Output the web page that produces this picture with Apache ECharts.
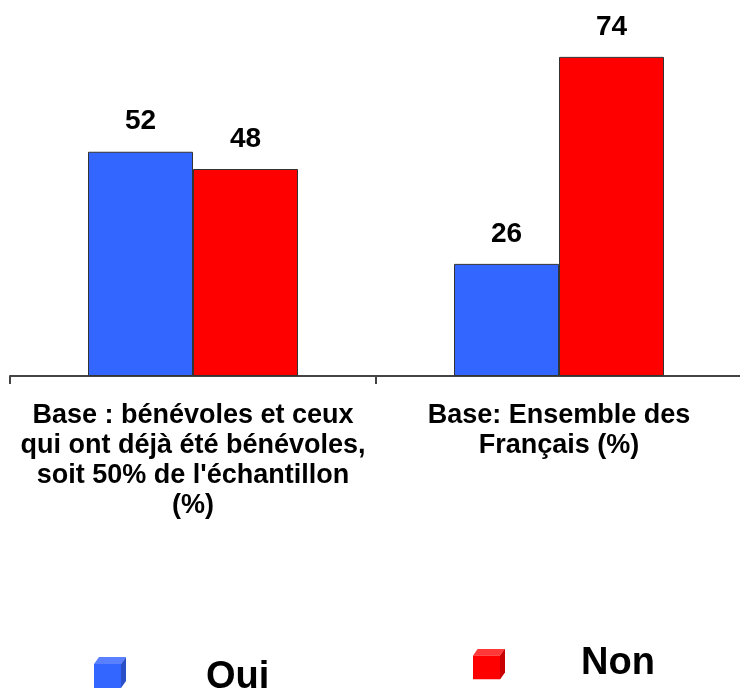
<!DOCTYPE html>
<html>
<head>
<meta charset="utf-8">
<script src="https://cdn.jsdelivr.net/npm/echarts@6/dist/echarts.min.js"></script>
<style>
  html, body { margin: 0; padding: 0; background: #fff; overflow: hidden; }
  /* a bit wider than the window so the last axis tick falls off the edge */
  #chart { width: 750px; height: 690px; }
</style>
</head>
<body>
<div id="chart"></div>
<script>
const categories = [
  "Base : bénévoles et ceux\nqui ont déjà été bénévoles,\nsoit 50% de l'échantillon\n(%)",
  "Base: Ensemble des\nFrançais (%)"
];
const oui = [52, 26];
const non = [48, 74];

// little 3d cube used as legend marker, extra blank rows at the bottom nudge it up against the text
const cube = (front, top, side, extra) => 'image://data:image/svg+xml;charset=utf-8,' + encodeURIComponent(
  '<svg xmlns="http://www.w3.org/2000/svg" width="32" height="' + (31 + extra) + '" viewBox="0 0 32 ' + (31 + extra) + '">' +
  '<polygon points="0,7 5,0 32,0 27,7" fill="' + top + '"/>' +
  '<polygon points="27,7 32,0 32,24 27,31" fill="' + side + '"/>' +
  '<rect x="0" y="7" width="27" height="24" fill="' + front + '"/>' +
  '</svg>');

const chart = echarts.init(document.getElementById('chart'));

const legendText = {
  fontFamily: 'Liberation Sans, Arial, sans-serif',
  fontWeight: 'bold',
  fontSize: 38,
  color: '#000'
};

const option = {
  animation: false,
  backgroundColor: '#fff',
  grid: {left: 10, width: 732, top: 31, bottom: 314, containLabel: false},
  legend: [
    {
      data: [{name: 'Oui', icon: cube('#3366FF', '#5A80FF', '#2A4FC8', 10)}],
      left: 94, top: 657, padding: 0, itemWidth: 32, itemHeight: 41,
      textStyle: Object.assign({padding: [0, 0, 0, 75]}, legendText)
    },
    {
      data: [{name: 'Non', icon: cube('#FF0000', '#FF3838', '#C80000', 0)}],
      left: 473, top: 645, padding: 0, itemWidth: 32, itemHeight: 31,
      textStyle: Object.assign({padding: [0, 0, 0, 71]}, legendText)
    }
  ],
  xAxis: {
    type: 'category',
    data: categories,
    axisLine: {lineStyle: {color: '#444', width: 2}},
    axisTick: {show: true, length: 8, interval: 0, lineStyle: {color: '#444', width: 2}},
    axisLabel: {
      interval: 0,
      margin: 25,
      color: '#000',
      fontFamily: 'Liberation Sans, Arial, sans-serif',
      fontWeight: 'bold',
      fontSize: 27,
      lineHeight: 30
    }
  },
  yAxis: {
    type: 'value',
    min: 0,
    max: 80,
    show: false,
    splitLine: {show: false}
  },
  series: [
    {
      name: 'Oui',
      type: 'bar',
      data: oui,
      barWidth: 105,
      barGap: '0%',
      itemStyle: {color: '#3366FF', borderColor: '#333', borderWidth: 1},
      label: {
        show: true, position: 'top', distance: 16,
        color: '#000', fontFamily: 'Liberation Sans, Arial, sans-serif',
        fontWeight: 'bold', fontSize: 28
      }
    },
    {
      name: 'Non',
      type: 'bar',
      data: non,
      barWidth: 105,
      barGap: '0%',
      itemStyle: {color: '#FF0000', borderColor: '#333', borderWidth: 1},
      label: {
        show: true, position: 'top', distance: 16,
        color: '#000', fontFamily: 'Liberation Sans, Arial, sans-serif',
        fontWeight: 'bold', fontSize: 28
      }
    }
  ]
};

chart.setOption(option);
</script>
</body>
</html>
